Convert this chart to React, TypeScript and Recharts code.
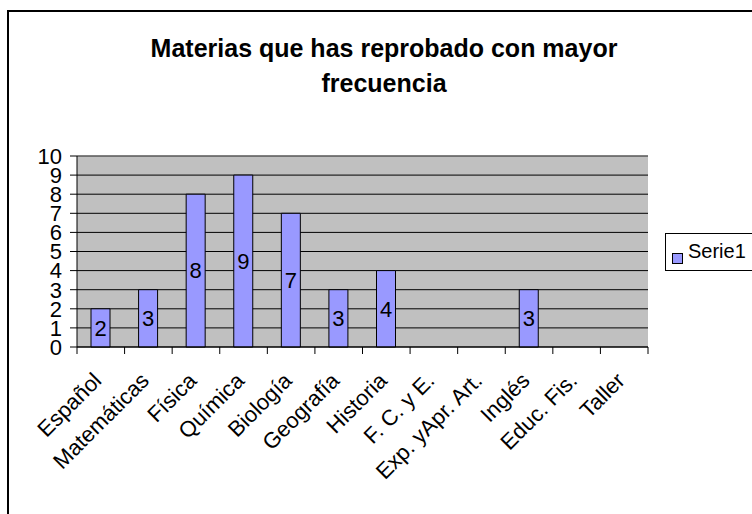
import React from "react";
import {
  Bar,
  BarChart,
  CartesianGrid,
  LabelList,
  ReferenceLine,
  XAxis,
  YAxis,
} from "recharts";

const materias = [
  "Español",
  "Matemáticas",
  "Física",
  "Química",
  "Biología",
  "Geografía",
  "Historia",
  "F. C. y E.",
  "Exp. yApr. Art.",
  "Inglés",
  "Educ. Fis.",
  "Taller",
];
const serie1 = [2, 3, 8, 9, 7, 3, 4, 0, 0, 3, 0, 0];
const yTicks = [0, 1, 2, 3, 4, 5, 6, 7, 8, 9, 10];

const data = materias.map((name, i) => ({ name, Serie1: serie1[i] }));

const FONT = "'Liberation Sans', Arial, sans-serif";
const W = 752;
const H = 514;
const LEFT = 77;
const RIGHT = 104;
const BAND = (W - LEFT - RIGHT) / materias.length;

function CategoryTick(props: any) {
  const { x, y, payload, index } = props;
  const left = x - BAND / 2;
  return (
    <g>
      <line x1={left} y1={y - 7} x2={left} y2={y} stroke="#000" />
      {index === materias.length - 1 && (
        <line x1={x + BAND / 2} y1={y - 7} x2={x + BAND / 2} y2={y} stroke="#000" />
      )}
      <text
        transform={`translate(${x + 2},${y + 28}) rotate(-45)`}
        textAnchor="end"
        fontSize={22}
        fontFamily={FONT}
        fill="#000"
      >
        {payload.value}
      </text>
    </g>
  );
}

export default function App() {
  return (
    <div
      style={{
        position: "absolute",
        left: 0,
        top: 0,
        width: W,
        height: H,
        overflow: "hidden",
        background: "#fff",
        fontFamily: FONT,
      }}
    >
      <div
        style={{
          position: "absolute",
          left: 7,
          top: 10,
          width: 900,
          height: 700,
          borderLeft: "2px solid #000",
          borderTop: "2px solid #000",
        }}
      />
      <div
        style={{
          position: "absolute",
          left: 134,
          top: 31,
          width: 500,
          textAlign: "center",
          fontWeight: "bold",
          fontSize: 25,
          lineHeight: "35px",
          color: "#000",
        }}
      >
        Materias que has reprobado con mayor
        <br />
        frecuencia
      </div>
      <div style={{ position: "absolute", left: 0, top: 0 }}>
        <BarChart
          width={W}
          height={H}
          data={data}
          margin={{ top: 156, right: RIGHT, left: 0, bottom: 0 }}
          barSize={19}
        >
          <CartesianGrid
            vertical={false}
            stroke="#000"
            fill="#C0C0C0"
            fillOpacity={1}
          />
          <XAxis
            dataKey="name"
            interval={0}
            height={167}
            tickLine={false}
            tickSize={7}
            tickMargin={0}
            axisLine={{ stroke: "#000" }}
            tick={<CategoryTick />}
          />
          <YAxis
            width={LEFT}
            domain={[0, 10]}
            ticks={yTicks}
            interval={0}
            tickSize={7}
            tickMargin={8}
            axisLine={{ stroke: "#000" }}
            tickLine={{ stroke: "#000" }}
            tick={{ fill: "#000", fontSize: 22, fontFamily: FONT }}
          />
          <ReferenceLine y={10} stroke="#808080" />
          <Bar
            dataKey="Serie1"
            fill="#9999FF"
            stroke="#000"
            strokeWidth={1}
            isAnimationActive={false}
          >
            <LabelList
              dataKey="Serie1"
              position="center"
              formatter={(v: any) => (v ? v : "")}
              fill="#000"
              fontSize={22}
              fontFamily={FONT}
            />
          </Bar>
        </BarChart>
      </div>
      <div
        style={{
          position: "absolute",
          left: 665,
          top: 233,
          width: 120,
          height: 36,
          border: "1px solid #000",
          background: "#fff",
        }}
      >
        <div
          style={{
            position: "absolute",
            left: 6,
            top: 19,
            width: 9,
            height: 9,
            background: "#9999FF",
            border: "1px solid #000",
          }}
        />
        <div
          style={{
            position: "absolute",
            left: 22,
            top: 5,
            fontSize: 20,
            lineHeight: "24px",
            color: "#000",
          }}
        >
          Serie1
        </div>
      </div>
    </div>
  );
}
